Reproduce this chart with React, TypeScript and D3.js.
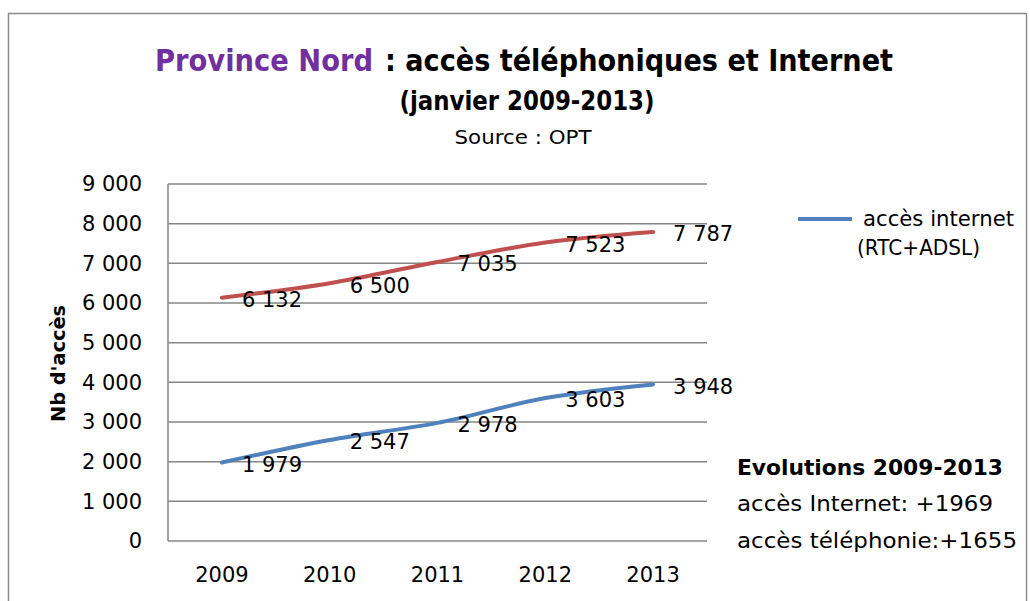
import * as d3 from "d3";

const years = ["2009", "2010", "2011", "2012", "2013"];
const telephone = [6132, 6500, 7035, 7523, 7787];
const internet = [1979, 2547, 2978, 3603, 3948];
const yTicks = [0, 1000, 2000, 3000, 4000, 5000, 6000, 7000, 8000, 9000];
const legendLines = ["accès internet", "(RTC+ADSL)"];
const notes = ["Evolutions 2009-2013", "accès Internet: +1969", "accès téléphonie:+1655"];

const width = 1030;
const height = 601;
const font = "'DejaVu Sans', Arial, sans-serif";
const red = "#C0504D";
const blue = "#4F81BD";
const grid = "#868686";

const fr = d3.formatLocale({ decimal: ",", thousands: " ", grouping: [3], currency: ["", ""] });
const fmt = fr.format(",d");

// widths measured on the reference, used to squeeze the text like the original
const noteWidths = [266, 256, 280];
const legendWidths = [151, 123];

export default function App() {
  const x = d3.scaleBand().domain(years).range([168, 707]);
  const y = d3.scaleLinear().domain([0, 9000]).range([541, 184]);
  const cx = (d: string) => (x(d) ?? 0) + x.bandwidth() / 2;

  const line = d3
    .line<number>()
    .x((_, i) => cx(years[i]))
    .y((v) => y(v))
    .curve(d3.curveCatmullRom.alpha(0.5));

  const series = [
    { values: telephone, color: red },
    { values: internet, color: blue },
  ];

  return (
    <svg
      width={width}
      height={height}
      style={{ position: "absolute", left: 0, top: 0, background: "#fff" }}
      fontFamily={font}
    >
      {/* outer frame */}
      <rect x={8.5} y={13.5} width={1018} height={600} fill="none" stroke="#8c8c8c" strokeWidth={1.5} />

      {/* titles */}
      <text x={155} y={71} fontSize={31} fontWeight="bold" fill="#7030A0" textLength={218} lengthAdjust="spacingAndGlyphs">
        Province Nord
      </text>
      <text x={385} y={71} fontSize={31} fontWeight="bold" fill="#000" textLength={508} lengthAdjust="spacingAndGlyphs">
        : accès téléphoniques et Internet
      </text>
      <text x={527} y={110} textAnchor="middle" fontSize={26} fontWeight="bold" textLength={255} lengthAdjust="spacingAndGlyphs">
        (janvier 2009-2013)
      </text>
      <text x={523} y={144} textAnchor="middle" fontSize={20} textLength={137} lengthAdjust="spacingAndGlyphs">
        Source : OPT
      </text>

      {/* gridlines */}
      {yTicks.map((t) => (
        <line key={t} x1={168} x2={707} y1={y(t)} y2={y(t)} stroke={grid} strokeWidth={1.5} />
      ))}
      <line x1={168} x2={168} y1={y(9000)} y2={y(0)} stroke={grid} strokeWidth={1.5} />

      {/* y tick labels */}
      {yTicks.map((t) => (
        <text key={t} x={142} y={y(t)} dy="0.35em" textAnchor="end" fontSize={21}>
          {fmt(t)}
        </text>
      ))}
      <text
        transform={`translate(65,${(y(0) + y(9000)) / 2 + 1}) rotate(-90)`}
        textAnchor="middle"
        fontSize={20}
        fontWeight="bold"
        textLength={117}
        lengthAdjust="spacingAndGlyphs"
      >
        Nb d'accès
      </text>

      {/* x labels */}
      {years.map((d) => (
        <text key={d} x={cx(d)} y={575} dy="0.35em" textAnchor="middle" fontSize={21}>
          {d}
        </text>
      ))}

      {/* lines */}
      {series.map((s, i) => (
        <path key={i} d={line(s.values) ?? ""} fill="none" stroke={s.color} strokeWidth={4} strokeLinecap="round" />
      ))}

      {/* data labels */}
      {series.map((s, i) =>
        s.values.map((v, j) => (
          <text key={`${i}-${j}`} x={cx(years[j]) + 20} y={y(v) + 2} dy="0.35em" fontSize={21}>
            {fmt(v)}
          </text>
        ))
      )}

      {/* legend */}
      <line x1={798} x2={852} y1={219} y2={219} stroke={blue} strokeWidth={4} />
      <text x={863} y={219} dy="0.35em" fontSize={21} textLength={legendWidths[0]} lengthAdjust="spacingAndGlyphs">
        {legendLines[0]}
      </text>
      <text x={857} y={248} dy="0.35em" fontSize={21} textLength={legendWidths[1]} lengthAdjust="spacingAndGlyphs">
        {legendLines[1]}
      </text>

      {/* evolutions note */}
      {notes.map((n, i) => (
        <text
          key={n}
          x={737}
          y={467 + i * 36.5}
          dy="0.35em"
          fontSize={22}
          fontWeight={i === 0 ? "bold" : "normal"}
          textLength={noteWidths[i]}
          lengthAdjust="spacingAndGlyphs"
        >
          {n}
        </text>
      ))}
    </svg>
  );
}
